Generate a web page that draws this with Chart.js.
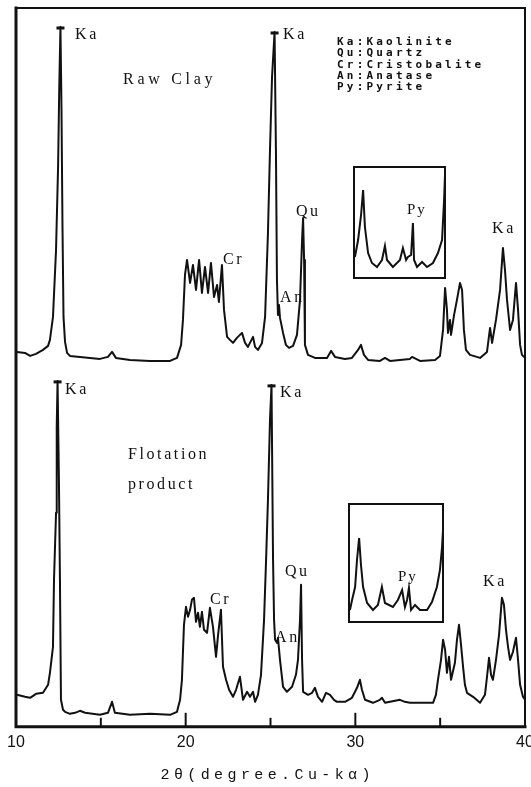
<!DOCTYPE html>
<html><head><meta charset="utf-8">
<script src="https://cdn.jsdelivr.net/npm/chart.js@4.4.1/dist/chart.umd.min.js"></script>
<style>
html,body{margin:0;padding:0;background:#fff;}
#wrap{position:relative;width:531px;height:787px;overflow:hidden;background:#fff;}
#main{position:absolute;left:0;top:0;}
.inset{position:absolute;}
</style></head><body>
<div id="wrap">
<canvas id="main" width="531" height="787"></canvas>
<canvas id="in1" class="inset" width="95" height="115" style="left:352px;top:165px"></canvas>
<canvas id="in2" class="inset" width="98" height="122" style="left:347px;top:502px"></canvas>
</div>
<script>
// ---- data (2θ in degrees, intensity in arbitrary units) ----
const rawTheta = [10.06,10.53,10.83,11.18,11.59,11.89,12.00,12.18,12.36,12.48,12.55,12.62,12.68,12.74,12.80,12.89,13.01,13.18,13.77,14.36,14.95,15.42,15.66,15.89,16.72,17.90,19.08,19.49,19.73,19.84,19.96,20.08,20.26,20.43,20.61,20.79,20.96,21.14,21.32,21.49,21.67,21.85,21.96,22.14,22.26,22.44,22.61,22.79,23.02,23.32,23.50,23.67,23.97,24.09,24.26,24.50,24.68,24.85,24.97,25.09,25.24,25.32,25.38,25.44,25.50,25.56,25.74,25.91,26.09,26.33,26.56,26.74,26.86,26.92,26.98,27.03,27.21,27.62,28.33,28.57,28.80,29.39,29.80,30.16,30.33,30.51,30.75,31.45,31.75,32.04,33.22,33.34,33.81,34.70,34.99,35.17,35.29,35.40,35.46,35.58,35.64,35.82,35.99,36.17,36.29,36.40,36.52,36.76,37.35,37.76,37.94,38.06,38.29,38.53,38.70,38.82,38.94,39.12,39.29,39.47,39.59,39.71,39.82,40.00];
const rawI = [375,374,371,373,377,381,387,410,477,560,640,700,620,500,410,385,374,371,370,369,368,370,375,369,367,366,366,369,382,407,452,467,444,462,437,467,434,460,434,464,430,442,425,462,417,390,387,384,389,394,384,380,390,380,377,384,410,494,577,650,695,577,447,412,422,409,394,382,379,381,392,427,487,509,467,382,372,369,369,376,370,368,369,377,382,372,367,366,369,366,368,370,366,367,371,397,439,417,394,407,392,412,427,444,437,397,377,372,369,375,399,384,407,437,479,457,427,397,407,444,417,382,372,369];

const flotTheta = [10.06,10.53,10.83,11.18,11.59,11.89,12.00,12.18,12.24,12.36,12.40,12.45,12.53,12.59,12.65,12.77,12.89,13.18,13.48,13.77,14.07,14.95,15.42,15.66,15.83,16.72,17.90,19.08,19.49,19.67,19.78,19.90,20.02,20.14,20.26,20.37,20.49,20.61,20.73,20.84,20.96,21.08,21.26,21.43,21.61,21.79,21.91,22.08,22.20,22.38,22.56,22.79,22.97,23.20,23.38,23.62,23.79,23.97,24.09,24.26,24.44,24.62,24.74,24.85,24.97,25.06,25.15,25.21,25.27,25.38,25.44,25.56,25.74,25.97,26.27,26.50,26.62,26.74,26.80,26.86,26.92,27.21,27.45,27.62,27.80,28.04,28.27,28.51,28.74,28.92,29.39,29.80,30.10,30.27,30.39,30.57,31.04,31.45,31.57,31.75,32.63,32.92,33.22,34.58,34.75,34.87,35.05,35.17,35.29,35.40,35.52,35.64,35.87,35.99,36.11,36.23,36.35,36.46,36.58,36.94,37.35,37.64,37.76,37.88,38.00,38.11,38.29,38.47,38.64,38.76,38.88,39.00,39.12,39.29,39.47,39.59,39.71,39.88,40.00];
const flotI = [32,30,29,33,34,42,54,80,147,214,300,346,247,147,27,17,15,13,14,16,14,12,14,25,14,12,13,12,15,27,47,102,120,110,117,127,129,105,114,100,115,97,94,119,100,70,92,117,60,47,37,30,37,50,27,35,30,35,25,32,52,107,167,227,307,342,167,107,87,84,89,67,40,35,40,52,67,107,142,67,35,32,34,39,30,25,34,32,27,25,25,29,39,47,37,27,24,27,29,24,27,25,24,24,32,47,67,87,77,54,70,47,64,87,102,82,60,42,34,30,24,32,50,69,52,47,67,92,129,122,97,80,67,75,89,67,42,30,27];

const insetRawTheta = [30.54,30.68,30.81,30.90,30.98,31.12,31.29,31.51,31.73,31.86,31.95,32.21,32.52,32.65,32.79,32.87,33.01,33.09,33.14,33.27,33.49,33.71,33.97,34.19,34.37,34.46,34.50];
const insetRawI = [21,38,63,88,51,25,15,11,18,32,18,11,18,30,18,21,23,55,18,11,16,11,15,25,38,78,103];
const insetFlotTheta = [30.54,30.63,30.76,30.84,30.93,31.01,31.10,31.27,31.52,31.73,31.90,32.03,32.37,32.58,32.76,32.88,32.97,33.05,33.14,33.31,33.52,33.82,34.03,34.24,34.37,34.46,34.50];
const insetFlotI = [12,22,35,62,84,57,35,19,12,17,35,19,15,22,32,15,22,34,12,17,12,12,20,35,52,75,92];

const xTickValues = [10,15,20,25,30,35,40];
const xTickLabels = ['10','','20','','30','','40'];
const axisTitle = '2θ(degree.Cu-kα)';
const legendLines = ['Ka:Kaolinite','Qu:Quartz','Cr:Cristobalite','An:Anatase','Py:Pyrite'];

// annotations: text anchored at (2θ, intensity)
const peakLabels = [
  {t:'Ka', x:13.48, y:692}, {t:'Raw Clay', x:16.31, y:647, sp:3.7}, {t:'Ka', x:25.74, y:692},
  {t:'Qu', x:26.50, y:515}, {t:'Cr', x:22.20, y:467}, {t:'An', x:25.56, y:429}, {t:'Ka', x:38.06, y:498},
  {t:'Ka', x:12.89, y:337}, {t:'Flotation', x:16.60, y:272}, {t:'product', x:16.60, y:242},
  {t:'Ka', x:25.56, y:334}, {t:'Cr', x:21.43, y:127}, {t:'Qu', x:25.85, y:155}, {t:'An', x:25.27, y:89},
  {t:'Ka', x:37.53, y:145}
];
const legendAnchor = {x:28.92, y:685, step:11.4};
const capPeaks = [{ds:0,x:12.62},{ds:0,x:25.24},{ds:1,x:12.45},{ds:1,x:25.06}];

const pts = (xs, ys) => xs.map((x, i) => ({x, y: ys[i]}));
const INK = '#111';

function drawSpaced(ctx, text, x, y, sp) {
  let cx = x;
  for (const ch of text) { ctx.fillText(ch, cx, y); cx += ctx.measureText(ch).width + sp; }
}
function spacedWidth(ctx, text, sp) {
  let w = 0; const chars = [...text];
  chars.forEach((ch, i) => { w += ctx.measureText(ch).width + (i < chars.length - 1 ? sp : 0); });
  return w;
}

const mainDecor = {
  id: 'mainDecor',
  afterDraw(chart) {
    const {ctx, chartArea: ca, scales: {x, y}} = chart;
    ctx.save();
    ctx.strokeStyle = INK; ctx.fillStyle = INK; ctx.lineCap = 'square';
    // frame
    ctx.lineWidth = 3;
    ctx.beginPath(); ctx.moveTo(ca.left, ca.top); ctx.lineTo(ca.left, ca.bottom); ctx.lineTo(ca.right, ca.bottom); ctx.stroke();
    ctx.lineWidth = 2;
    ctx.beginPath(); ctx.moveTo(ca.left, ca.top); ctx.lineTo(ca.right, ca.top); ctx.lineTo(ca.right, ca.bottom); ctx.stroke();
    // inward ticks
    ctx.lineWidth = 2; ctx.lineCap = 'butt';
    xTickValues.forEach((v, i) => {
      if (v === x.min || v === x.max) return;
      const px = x.getPixelForValue(v);
      const len = xTickLabels[i] ? 14 : 9;
      ctx.beginPath(); ctx.moveTo(px, ca.bottom); ctx.lineTo(px, ca.bottom - len); ctx.stroke();
    });
    // peak caps
    ctx.lineWidth = 3;
    capPeaks.forEach(c => {
      const d = chart.data.datasets[c.ds].data;
      let best = null;
      d.forEach(p => { if (Math.abs(p.x - c.x) < 0.3 && (!best || p.y > best.y)) best = p; });
      const px = x.getPixelForValue(best.x), py = y.getPixelForValue(best.y);
      ctx.beginPath(); ctx.moveTo(px - 4, py + 1); ctx.lineTo(px + 4, py + 1); ctx.stroke();
    });
    // labels
    ctx.textBaseline = 'middle'; ctx.textAlign = 'left';
    ctx.font = '16px "Liberation Serif", "DejaVu Serif", serif';
    peakLabels.forEach(l => drawSpaced(ctx, l.t, x.getPixelForValue(l.x), y.getPixelForValue(l.y), l.sp || 2.6));
    // legend
    ctx.font = 'bold 11px "DejaVu Sans Mono", monospace';
    legendLines.forEach((s, i) => drawSpaced(ctx, s, x.getPixelForValue(legendAnchor.x), y.getPixelForValue(legendAnchor.y - i * legendAnchor.step), 3.2));
    // axis title
    ctx.font = '15px "Liberation Mono", "DejaVu Sans Mono", monospace';
    const w = spacedWidth(ctx, axisTitle, 4.4);
    drawSpaced(ctx, axisTitle, (ca.left + ca.right) / 2 - w / 2 - 5, ca.bottom + 48, 4.4);
    ctx.restore();
  }
};

new Chart(document.getElementById('main'), {
  type: 'line',
  data: { datasets: [
    { label: 'Raw Clay', data: pts(rawTheta, rawI) },
    { label: 'Flotation product', data: pts(flotTheta, flotI) }
  ]},
  options: {
    responsive: false, animation: false, devicePixelRatio: 1,
    layout: { autoPadding: false, padding: { left: 16, right: 6, top: 8, bottom: 29 } },
    elements: { point: { radius: 0 }, line: { borderColor: INK, borderWidth: 2, tension: 0, borderJoinStyle: 'round' } },
    plugins: { legend: { display: false }, tooltip: { enabled: false } },
    scales: {
      x: {
        type: 'linear', min: 10, max: 40,
        afterBuildTicks: s => { s.ticks = xTickValues.map(v => ({value: v})); },
        afterFit: s => { s.paddingLeft = 0; s.paddingRight = 0; },
        grid: { display: false, drawTicks: false }, border: { display: false },
        ticks: { autoSkip: false, maxRotation: 0, padding: 6, color: INK,
          font: { family: '"Liberation Sans", Arial, sans-serif', size: 16 },
          callback: (v) => { const i = xTickValues.indexOf(v); return i >= 0 ? xTickLabels[i] : ''; } }
      },
      y: { display: false, min: 0, max: 719 }
    }
  },
  plugins: [mainDecor]
});

function insetChart(id, xs, ys, ymax, pyLabel) {
  const deco = {
    id: 'insetDecor',
    afterDraw(chart) {
      const {ctx, chartArea: ca, scales: {x, y}} = chart;
      ctx.save();
      ctx.strokeStyle = INK; ctx.lineWidth = 2;
      ctx.strokeRect(ca.left, ca.top, ca.right - ca.left, ca.bottom - ca.top);
      ctx.fillStyle = INK; ctx.textBaseline = 'middle';
      ctx.font = '15px "Liberation Serif", "DejaVu Serif", serif';
      drawSpaced(ctx, 'Py', x.getPixelForValue(pyLabel.x), y.getPixelForValue(pyLabel.y), 2);
      ctx.restore();
    }
  };
  new Chart(document.getElementById(id), {
    type: 'line',
    data: { datasets: [{ data: pts(xs, ys) }] },
    options: {
      responsive: false, animation: false, devicePixelRatio: 1,
      layout: { autoPadding: false, padding: 2 },
      elements: { point: { radius: 0 }, line: { borderColor: INK, borderWidth: 2, tension: 0 } },
      plugins: { legend: { display: false }, tooltip: { enabled: false } },
      scales: { x: { type: 'linear', display: false, min: 30.5, max: 34.5 }, y: { display: false, min: 0, max: ymax } }
    },
    plugins: [deco]
  });
}
insetChart('in1', insetRawTheta, insetRawI, 111, {x: 32.83, y: 68});
insetChart('in2', insetFlotTheta, insetFlotI, 118, {x: 32.58, y: 45});
</script>
</body></html>
